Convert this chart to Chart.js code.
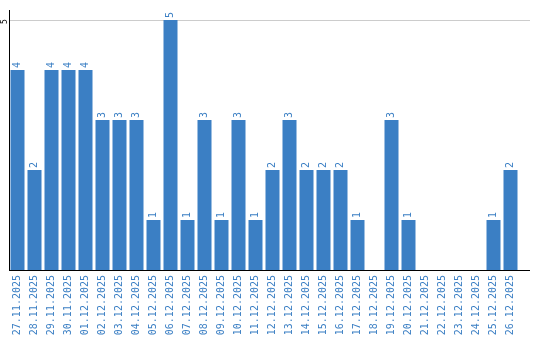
<!DOCTYPE html>
<html>
<head>
<meta charset="utf-8">
<script src="https://cdn.jsdelivr.net/npm/chart.js@4/dist/chart.umd.min.js"></script>
<style>
  html, body { margin: 0; padding: 0; background: #fff; }
</style>
</head>
<body>
<canvas id="daily-chart" width="540" height="340"></canvas>
<script>
const days = [
  '27.11.2025', '28.11.2025', '29.11.2025', '30.11.2025', '01.12.2025',
  '02.12.2025', '03.12.2025', '04.12.2025', '05.12.2025', '06.12.2025',
  '07.12.2025', '08.12.2025', '09.12.2025', '10.12.2025', '11.12.2025',
  '12.12.2025', '13.12.2025', '14.12.2025', '15.12.2025', '16.12.2025',
  '17.12.2025', '18.12.2025', '19.12.2025', '20.12.2025', '21.12.2025',
  '22.12.2025', '23.12.2025', '24.12.2025', '25.12.2025', '26.12.2025'
];
const counts = [4, 2, 4, 4, 4, 3, 3, 3, 1, 5, 1, 3, 1, 3, 1, 2, 3, 2, 2, 2, 1, 0, 3, 1, 0, 0, 0, 0, 1, 2];
const yTicks = [5];

const barColor = '#3b7fc4';
const labelFont = '10px "DejaVu Sans Mono", monospace';

// value labels on bars, y tick label and the line extension to the right edge
const extras = {
  id: 'extras',
  afterDatasetsDraw(chart) {
    const ctx = chart.ctx;
    const area = chart.chartArea;
    const y = chart.scales.y;
    ctx.save();

    // grid line + axis line extend a bit past the last category
    ctx.lineWidth = 1;
    ctx.strokeStyle = '#cccccc';
    const gy = Math.round(y.getPixelForValue(5)) + 0.5;
    ctx.beginPath(); ctx.moveTo(area.right, gy); ctx.lineTo(530, gy); ctx.stroke();
    ctx.strokeStyle = '#000';
    ctx.beginPath(); ctx.moveTo(area.right, area.bottom + 0.5); ctx.lineTo(530, area.bottom + 0.5); ctx.stroke();

    // y tick labels, rotated
    ctx.fillStyle = '#000';
    ctx.font = '8px "DejaVu Sans Mono", monospace';
    yTicks.forEach(v => {
      ctx.save();
      ctx.translate(area.left - 2, y.getPixelForValue(v) + 1.5);
      ctx.rotate(-Math.PI / 2);
      ctx.textAlign = 'center';
      ctx.textBaseline = 'alphabetic';
      ctx.fillText(String(v), 0, 0);
      ctx.restore();
    });

    // bar values
    ctx.fillStyle = barColor;
    ctx.font = labelFont;
    const meta = chart.getDatasetMeta(0);
    meta.data.forEach((bar, i) => {
      if (!counts[i]) return;
      ctx.save();
      ctx.translate(bar.x, bar.y - 2);
      ctx.rotate(-Math.PI / 2);
      ctx.textAlign = 'left';
      ctx.textBaseline = 'middle';
      ctx.fillText(String(counts[i]), 0, 0);
      ctx.restore();
    });
    ctx.restore();
  }
};

const ctx = document.getElementById('daily-chart').getContext('2d');
const chart = new Chart(ctx, {
  type: 'bar',
  data: {
    labels: days,
    datasets: [{
      data: counts,
      backgroundColor: barColor,
      borderWidth: 0,
      barPercentage: 14 / 17,
      categoryPercentage: 1
    }]
  },
  options: {
    responsive: false,
    animation: false,
    devicePixelRatio: 1,
    layout: { padding: { top: 10, right: 21, left: 0, bottom: 0 } },
    plugins: { legend: { display: false }, tooltip: { enabled: false } },
    scales: {
      x: {
        grid: { display: false, drawTicks: false },
        border: { color: '#000', width: 1 },
        ticks: {
          color: barColor,
          font: { family: '"DejaVu Sans Mono", monospace', size: 10 },
          minRotation: 90,
          maxRotation: 90,
          autoSkip: false,
          padding: 5
        },
        afterFit(scale) { scale.height = 70; }
      },
      y: {
        min: 0,
        max: 5.2,
        afterBuildTicks(scale) { scale.ticks = yTicks.map(v => ({ value: v })); },
        ticks: { display: false },
        grid: { color: '#cccccc', drawTicks: false },
        border: { color: '#000', width: 1 },
        afterFit(scale) { scale.width = 9; }
      }
    }
  },
  plugins: [extras]
});
</script>
</body>
</html>
